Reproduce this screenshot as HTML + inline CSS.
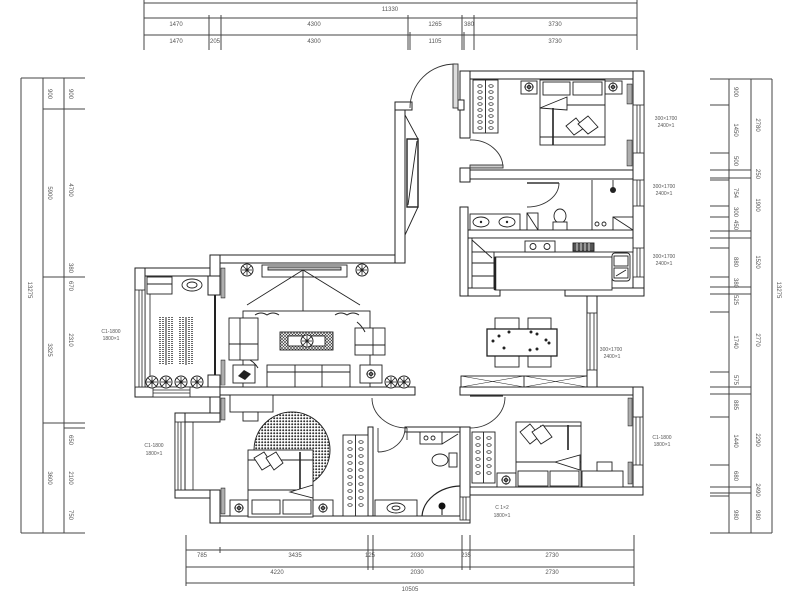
<!DOCTYPE html>
<html><head><meta charset="utf-8"><style>
html,body{margin:0;padding:0;background:#fff;}
svg{display:block}
text{font-family:"Liberation Sans",sans-serif;fill:#555}
</style></head><body>
<svg width="800" height="600" viewBox="0 0 800 600" xmlns="http://www.w3.org/2000/svg">
<defs>
<pattern id="dots" width="3" height="3" patternUnits="userSpaceOnUse"><rect width="3" height="3" fill="#fff"/><circle cx="1.2" cy="1.2" r="1" fill="#333"/></pattern>
<pattern id="hatch" width="3" height="3" patternUnits="userSpaceOnUse"><rect width="3" height="3" fill="#fff"/><path d="M0,0L3,3M3,0L0,3" stroke="#333" stroke-width="0.6"/></pattern>
<pattern id="rad" width="4" height="2" patternUnits="userSpaceOnUse"><rect width="4" height="2" fill="#fff"/><path d="M0,1H4" stroke="#333" stroke-width="0.8"/></pattern>
<g id="pl"><circle r="6" fill="#fff" stroke="#222"/><path d="M-5,0H5M0,-5V5M-4,-4L4,4M-4,4L4,-4" stroke="#222" stroke-width="0.8"/><circle r="1.6" fill="#222"/></g>
<g id="lamp"><circle r="4" fill="#fff" stroke="#222"/><circle r="1.5" fill="none" stroke="#222"/><path d="M-5,0H5M0,-5V5" stroke="#222" stroke-width="0.6"/></g>
<g id="hang"><ellipse cx="0" cy="0" rx="2.2" ry="1.3" fill="none" stroke="#222" stroke-width="0.7"/></g>
</defs>

<!-- ===== DIMENSIONS ===== -->
<g stroke="#444" stroke-width="1" fill="none">
<!-- top -->
<line x1="144" y1="3" x2="637" y2="3"/>
<line x1="144" y1="18" x2="637" y2="18"/>
<line x1="144" y1="35" x2="637" y2="35"/>
<line x1="144" y1="0" x2="144" y2="50"/>
<line x1="637" y1="0" x2="637" y2="50"/>
<line x1="209" y1="15" x2="209" y2="50"/>
<line x1="221" y1="15" x2="221" y2="50"/>
<line x1="408" y1="15" x2="408" y2="50"/>
<line x1="410" y1="32" x2="410" y2="50"/>
<line x1="462" y1="15" x2="462" y2="50"/>
<line x1="464" y1="32" x2="464" y2="50"/>
<line x1="474" y1="15" x2="474" y2="50"/>
<!-- left -->
<line x1="21" y1="78" x2="21" y2="533"/>
<line x1="43" y1="78" x2="43" y2="533"/>
<line x1="64" y1="78" x2="64" y2="533"/>
<line x1="21" y1="78" x2="85" y2="78"/>
<line x1="21" y1="533" x2="85" y2="533"/>
<line x1="43" y1="109" x2="85" y2="109"/>
<line x1="43" y1="277" x2="85" y2="277"/>
<line x1="43" y1="423" x2="85" y2="423"/>
<line x1="64" y1="428" x2="85" y2="428"/>
<!-- right -->
<line x1="729" y1="79" x2="729" y2="533"/>
<line x1="751" y1="79" x2="751" y2="533"/>
<line x1="772" y1="79" x2="772" y2="533"/>
<line x1="710" y1="79" x2="772" y2="79"/>
<line x1="710" y1="533" x2="772" y2="533"/>
<line x1="710" y1="105" x2="729" y2="105"/>
<line x1="710" y1="153" x2="729" y2="153"/>
<line x1="710" y1="170" x2="751" y2="170"/>
<line x1="710" y1="178" x2="751" y2="178"/>
<line x1="710" y1="180" x2="729" y2="180"/>
<line x1="710" y1="206" x2="729" y2="206"/>
<line x1="710" y1="217" x2="729" y2="217"/>
<line x1="710" y1="231" x2="751" y2="231"/>
<line x1="710" y1="238" x2="751" y2="238"/>
<line x1="710" y1="248" x2="729" y2="248"/>
<line x1="710" y1="277" x2="729" y2="277"/>
<line x1="710" y1="287" x2="751" y2="287"/>
<line x1="710" y1="294" x2="751" y2="294"/>
<line x1="710" y1="312" x2="729" y2="312"/>
<line x1="710" y1="372" x2="729" y2="372"/>
<line x1="710" y1="387" x2="751" y2="387"/>
<line x1="710" y1="394" x2="751" y2="394"/>
<line x1="710" y1="417" x2="729" y2="417"/>
<line x1="710" y1="465" x2="729" y2="465"/>
<line x1="710" y1="487" x2="751" y2="487"/>
<line x1="710" y1="493" x2="751" y2="493"/>
<line x1="710" y1="496" x2="729" y2="496"/>
<!-- bottom -->
<line x1="186" y1="550" x2="634" y2="550"/>
<line x1="186" y1="567" x2="634" y2="567"/>
<line x1="186" y1="583" x2="634" y2="583"/>
<line x1="186" y1="535" x2="186" y2="586"/>
<line x1="634" y1="535" x2="634" y2="586"/>
<line x1="368" y1="535" x2="368" y2="570"/>
<line x1="373" y1="535" x2="373" y2="570"/>
<line x1="462" y1="535" x2="462" y2="570"/>
<line x1="470" y1="535" x2="470" y2="570"/>
<line x1="220" y1="547" x2="220" y2="553"/>
</g>
<g font-size="6" text-anchor="middle">
<text x="390" y="11">11330</text>
<text x="176" y="26">1470</text><text x="314" y="26">4300</text><text x="435" y="26">1265</text><text x="469" y="26">380</text><text x="555" y="26">3730</text>
<text x="176" y="43">1470</text><text x="215" y="43">205</text><text x="314" y="43">4300</text><text x="435" y="43">1105</text><text x="555" y="43">3730</text>
<text x="202" y="557">785</text><text x="295" y="557">3435</text><text x="370" y="557">125</text><text x="417" y="557">2030</text><text x="466" y="557">235</text><text x="552" y="557">2730</text>
<text x="277" y="574">4220</text><text x="417" y="574">2030</text><text x="552" y="574">2730</text>
<text x="410" y="591">10505</text>
<g transform="translate(28,290) rotate(90)"><text>13275</text></g>
<g transform="translate(48,94) rotate(90)"><text>900</text></g>
<g transform="translate(48,193) rotate(90)"><text>5900</text></g>
<g transform="translate(48,350) rotate(90)"><text>3325</text></g>
<g transform="translate(48,478) rotate(90)"><text>3600</text></g>
<g transform="translate(69,94) rotate(90)"><text>900</text></g>
<g transform="translate(69,190) rotate(90)"><text>4700</text></g>
<g transform="translate(69,268) rotate(90)"><text>380</text></g>
<g transform="translate(69,286) rotate(90)"><text>670</text></g>
<g transform="translate(69,340) rotate(90)"><text>2310</text></g>
<g transform="translate(69,440) rotate(90)"><text>650</text></g>
<g transform="translate(69,478) rotate(90)"><text>2100</text></g>
<g transform="translate(69,515) rotate(90)"><text>750</text></g>
<g transform="translate(734,92) rotate(90)"><text>900</text></g>
<g transform="translate(734,130) rotate(90)"><text>1450</text></g>
<g transform="translate(734,161) rotate(90)"><text>500</text></g>
<g transform="translate(734,193) rotate(90)"><text>754</text></g>
<g transform="translate(734,212) rotate(90)"><text>300</text></g>
<g transform="translate(734,225) rotate(90)"><text>450</text></g>
<g transform="translate(734,262) rotate(90)"><text>880</text></g>
<g transform="translate(734,283) rotate(90)"><text>380</text></g>
<g transform="translate(734,300) rotate(90)"><text>525</text></g>
<g transform="translate(734,342) rotate(90)"><text>1740</text></g>
<g transform="translate(734,380) rotate(90)"><text>575</text></g>
<g transform="translate(734,405) rotate(90)"><text>885</text></g>
<g transform="translate(734,441) rotate(90)"><text>1440</text></g>
<g transform="translate(734,476) rotate(90)"><text>680</text></g>
<g transform="translate(734,515) rotate(90)"><text>980</text></g>
<g transform="translate(756,125) rotate(90)"><text>2780</text></g>
<g transform="translate(756,174) rotate(90)"><text>250</text></g>
<g transform="translate(756,205) rotate(90)"><text>1900</text></g>
<g transform="translate(756,262) rotate(90)"><text>1520</text></g>
<g transform="translate(756,340) rotate(90)"><text>2770</text></g>
<g transform="translate(756,440) rotate(90)"><text>2290</text></g>
<g transform="translate(756,490) rotate(90)"><text>2490</text></g>
<g transform="translate(756,515) rotate(90)"><text>980</text></g>
<g transform="translate(777,290) rotate(90)"><text>13275</text></g>
</g>
<!-- room labels -->
<g font-size="5" fill="#666" text-anchor="middle">
<text x="666" y="120">300×1700</text><text x="666" y="127">2400×1</text>
<text x="664" y="188">300×1700</text><text x="664" y="195">2400×1</text>
<text x="664" y="258">300×1700</text><text x="664" y="265">2400×1</text>
<text x="611" y="351">300×1700</text><text x="612" y="358">2400×1</text>
<text x="662" y="439">C1-1800</text><text x="662" y="446">1800×1</text>
<text x="111" y="333">C1-1800</text><text x="111" y="340">1800×1</text>
<text x="154" y="447">C1-1800</text><text x="154" y="455">1800×1</text>
<text x="502" y="509">C 1×2</text><text x="502" y="517">1800×1</text>
</g>

<!-- ===== WALLS ===== -->
<g fill="#fff" stroke="#222" stroke-width="1">
<rect x="460" y="71" width="184" height="8"/>
<rect x="633" y="71" width="11" height="225"/>
<rect x="460" y="71" width="10" height="67"/>
<rect x="460" y="170" width="173" height="9"/>
<rect x="460" y="168" width="10" height="14"/>
<rect x="460" y="207" width="8" height="89"/>
<rect x="468" y="230" width="165" height="8"/>
<rect x="468" y="288" width="32" height="8"/>
<rect x="565" y="288" width="79" height="8"/>
<rect x="587" y="296" width="10" height="91"/>
<rect x="460" y="387" width="183" height="8"/>
<rect x="633" y="387" width="10" height="108"/>
<rect x="470" y="487" width="173" height="8"/>
<rect x="460" y="427" width="10" height="96"/>
<rect x="210" y="516" width="260" height="7"/>
<rect x="368" y="427" width="5" height="89"/>
<rect x="405" y="427" width="55" height="5"/>
<rect x="210" y="387" width="205" height="8"/>
<rect x="210" y="395" width="10" height="27"/>
<rect x="175" y="413" width="45" height="9"/>
<rect x="175" y="413" width="10" height="85"/>
<rect x="175" y="490" width="45" height="8"/>
<rect x="210" y="490" width="10" height="33"/>
<rect x="135" y="268" width="85" height="8"/>
<rect x="135" y="268" width="10" height="129"/>
<rect x="135" y="387" width="85" height="10"/>
<rect x="208" y="276" width="12" height="19"/>
<rect x="208" y="375" width="12" height="12"/>
<rect x="210" y="255" width="195" height="8"/>
<rect x="210" y="255" width="10" height="21"/>
<rect x="395" y="102" width="10" height="161"/>
<rect x="395" y="102" width="17" height="8"/>
<rect x="458" y="100" width="6" height="10"/>
</g>
<!-- windows -->
<g stroke="#222" stroke-width="0.8" fill="#fff">
<rect x="633" y="105" width="11" height="48"/><line x1="637" y1="105" x2="637" y2="153"/><line x1="640" y1="105" x2="640" y2="153"/>
<rect x="633" y="180" width="11" height="26"/><line x1="637" y1="180" x2="637" y2="206"/><line x1="640" y1="180" x2="640" y2="206"/>
<rect x="633" y="248" width="11" height="29"/><line x1="637" y1="248" x2="637" y2="277"/><line x1="640" y1="248" x2="640" y2="277"/>
<rect x="587" y="313" width="10" height="57"/><line x1="590" y1="313" x2="590" y2="370"/><line x1="594" y1="313" x2="594" y2="370"/>
<rect x="633" y="417" width="10" height="48"/><line x1="636" y1="417" x2="636" y2="465"/><line x1="640" y1="417" x2="640" y2="465"/>
<rect x="460" y="497" width="10" height="23"/><line x1="463" y1="497" x2="463" y2="520"/><line x1="466" y1="497" x2="466" y2="520"/>
<rect x="175" y="422" width="10" height="68"/><line x1="178" y1="422" x2="178" y2="490"/><line x1="181" y1="422" x2="181" y2="490"/><line x1="185" y1="422" x2="185" y2="490"/><line x1="193" y1="422" x2="193" y2="490"/>
<rect x="135" y="290" width="10" height="97"/><line x1="139" y1="290" x2="139" y2="387"/><line x1="142" y1="290" x2="142" y2="387"/><line x1="150" y1="285" x2="150" y2="387"/>
<rect x="153" y="387" width="37" height="10"/><line x1="153" y1="390" x2="190" y2="390"/><line x1="153" y1="393" x2="190" y2="393"/>
</g>
<line x1="215" y1="295" x2="215" y2="375" stroke="#222" stroke-width="2"/>

<!-- ===== DOORS ===== -->
<g fill="none" stroke="#333" stroke-width="0.9">
<path d="M410,108 A45,44 0 0 1 455,64"/>
<rect x="453" y="64" width="5" height="44" fill="#ddd"/>
<path d="M470,140 A32,28 0 0 1 503,168"/>
<rect x="470" y="165" width="33" height="3" fill="#ccc"/>
<path d="M559,183 A32,24 0 0 1 527,207"/>
<line x1="527" y1="183" x2="559" y2="183" stroke-width="1.5"/>
<line x1="500" y1="289" x2="565" y2="289" stroke-width="1.5"/>
<path d="M372,398 A35,30 0 0 0 407,428"/>
<path d="M505,397 A35,31 0 0 1 470,428"/>
<line x1="470" y1="396" x2="503" y2="396" stroke-width="1.2"/>
<path d="M378,452 A27,24 0 0 0 405,428"/>
<line x1="378" y1="428" x2="378" y2="452"/>
<line x1="407" y1="428" x2="407" y2="440"/>
</g>
<!-- hall glass -->
<g fill="none" stroke="#222" stroke-width="0.9">
<path d="M405,115 L418,139 M418,207 L405,235"/>
<rect x="407" y="139" width="11" height="68" stroke-width="1.4"/>
<line x1="417" y1="141" x2="408" y2="205"/>
</g>

<!-- ===== MASTER BEDROOM ===== -->
<g fill="#fff" stroke="#222" stroke-width="0.9">
<rect x="473" y="80" width="25" height="53"/><line x1="485.5" y1="80" x2="485.5" y2="133"/>
<rect x="521" y="81" width="16" height="13"/><rect x="605" y="81" width="17" height="13"/>
<rect x="540" y="80" width="65" height="65"/>
<rect x="543" y="82" width="27" height="13"/><rect x="573" y="82" width="29" height="13"/>
<path d="M540,108 L567,97 L567,110 Z"/>
<line x1="567" y1="105" x2="605" y2="105"/>
<line x1="553" y1="108" x2="553" y2="145" stroke-width="1.6"/>
<line x1="540" y1="137" x2="605" y2="137"/>
<path d="M566,126 L576,118 L584,128 L574,135 Z"/><path d="M578,124 L588,116 L598,127 L588,134 Z"/>
<rect x="627" y="84" width="5" height="20" fill="url(#rad)" stroke-width="0.5"/>
<rect x="627" y="140" width="5" height="26" fill="url(#rad)" stroke-width="0.5"/>
</g>
<use href="#lamp" x="529" y="87"/><use href="#lamp" x="613" y="87"/>
<g><use href="#hang" x="480" y="86"/><use href="#hang" x="480" y="92"/><use href="#hang" x="480" y="98"/><use href="#hang" x="480" y="104"/><use href="#hang" x="480" y="110"/><use href="#hang" x="480" y="116"/><use href="#hang" x="480" y="122"/><use href="#hang" x="480" y="128"/>
<use href="#hang" x="491" y="86"/><use href="#hang" x="491" y="92"/><use href="#hang" x="491" y="98"/><use href="#hang" x="491" y="104"/><use href="#hang" x="491" y="110"/><use href="#hang" x="491" y="116"/><use href="#hang" x="491" y="122"/><use href="#hang" x="491" y="128"/></g>

<!-- ===== BATHROOM (top) ===== -->
<g fill="#fff" stroke="#222" stroke-width="0.9">
<rect x="470" y="214" width="50" height="16"/>
<ellipse cx="481" cy="222" rx="8" ry="5"/><ellipse cx="507" cy="222" rx="8" ry="5"/>
<rect x="527" y="213" width="11" height="17"/><line x1="527" y1="213" x2="538" y2="230"/>
<ellipse cx="560" cy="216" rx="6" ry="7"/><rect x="553" y="222" width="14" height="8"/>
<line x1="592" y1="180" x2="592" y2="230"/>
<line x1="613" y1="180" x2="613" y2="189"/>
<rect x="613" y="217" width="20" height="13"/><line x1="613" y1="217" x2="633" y2="230"/>
<circle cx="597" cy="224" r="2"/><circle cx="604" cy="224" r="2"/>
</g>
<circle cx="481" cy="222" r="1.2" fill="#222"/><circle cx="507" cy="222" r="1.2" fill="#222"/>
<circle cx="613" cy="190" r="3" fill="#222"/>

<!-- ===== KITCHEN ===== -->
<g fill="#fff" stroke="#222" stroke-width="0.9">
<rect x="472" y="238" width="161" height="14"/>
<rect x="472" y="252" width="22" height="36"/>
<line x1="472" y1="263" x2="494" y2="263"/><line x1="472" y1="276" x2="494" y2="276"/>
<path d="M472,240 L492,258" />
<rect x="525" y="241" width="30" height="11"/>
<circle cx="533" cy="246.5" r="3"/><circle cx="547" cy="246.5" r="3"/>
<rect x="573" y="243" width="21" height="8" fill="#555"/>
<rect x="495" y="257" width="117" height="33"/>
<line x1="495" y1="257" x2="495" y2="290" stroke-width="2.5"/>
<rect x="612" y="253" width="18" height="28" rx="3"/>
<rect x="614" y="256" width="14" height="10"/><rect x="614" y="268" width="14" height="10"/>
<line x1="616" y1="276" x2="626" y2="270"/>
</g>
<g stroke="#fff" stroke-width="0.8"><line x1="577" y1="243" x2="577" y2="251"/><line x1="581" y1="243" x2="581" y2="251"/><line x1="585" y1="243" x2="585" y2="251"/><line x1="589" y1="243" x2="589" y2="251"/></g>

<!-- ===== DINING ===== -->
<g fill="#fff" stroke="#222" stroke-width="0.9">
<rect x="495" y="318" width="24" height="12"/><rect x="528" y="318" width="23" height="12"/>
<rect x="495" y="355" width="24" height="12"/><rect x="528" y="355" width="23" height="12"/>
<rect x="487" y="329" width="70" height="27" stroke-width="1.3"/>
<rect x="461" y="376" width="126" height="11"/>
<line x1="524" y1="376" x2="524" y2="387"/>
<path d="M461,376 L524,387 M461,387 L524,376 M524,376 L587,387 M524,387 L587,376" stroke-width="0.5"/>
</g>
<g fill="#222"><circle cx="493" cy="341" r="1.5"/><circle cx="499" cy="336" r="1.5"/><circle cx="509" cy="332" r="1.5"/><circle cx="504" cy="348" r="1.5"/><circle cx="531" cy="332" r="1.5"/><circle cx="537" cy="334" r="1.5"/><circle cx="546" cy="340" r="1.5"/><circle cx="549" cy="343" r="1.5"/><circle cx="537" cy="349" r="1.5"/><circle cx="530" cy="350" r="1.5"/></g>

<!-- ===== LIVING ===== -->
<g fill="#fff" stroke="#222" stroke-width="0.9">
<rect x="262" y="265" width="85" height="12"/>
<rect x="268" y="267" width="73" height="3" fill="#bbb"/>
<path d="M303,270 L247,305 M303,270 L303,320 M303,270 L360,305" fill="none"/>
<rect x="243" y="311" width="127" height="76"/>
<rect x="229" y="318" width="29" height="42"/><line x1="240" y1="318" x2="240" y2="360"/><line x1="229" y1="344" x2="258" y2="344"/>
<rect x="355" y="328" width="30" height="27"/><line x1="373" y1="328" x2="373" y2="355"/><line x1="355" y1="345" x2="385" y2="345"/>
<rect x="280" y="332" width="53" height="18" fill="url(#hatch)"/>
<rect x="288" y="336" width="37" height="10"/>
<rect x="267" y="365" width="83" height="22"/>
<line x1="295" y1="365" x2="295" y2="387"/><line x1="322" y1="365" x2="322" y2="387"/>
<line x1="267" y1="372" x2="350" y2="372"/>
<rect x="233" y="365" width="22" height="18"/>
<rect x="360" y="365" width="22" height="18"/>
<rect x="221" y="268" width="4" height="30" fill="url(#rad)" stroke-width="0.5"/>
<rect x="221" y="360" width="4" height="25" fill="url(#rad)" stroke-width="0.5"/>
</g>
<path d="M238,376 L244,370 L251,374 L245,380 Z" fill="#222"/>
<use href="#lamp" x="371" y="374"/>
<use href="#pl" x="307" y="341"/>
<use href="#pl" x="247" y="270"/><use href="#pl" x="362" y="270"/>
<use href="#pl" x="391" y="382"/><use href="#pl" x="404" y="382"/>
<path d="M255,315 q6,-4 12,0 q6,-4 12,0 M335,315 q6,-4 12,0 q6,-4 12,0 M357,322 q5,4 8,10 M250,360 q5,3 8,8" fill="none" stroke="#222" stroke-width="1"/>

<!-- ===== BALCONY ===== -->
<g fill="#fff" stroke="#222" stroke-width="0.9">
<rect x="147" y="277" width="25" height="17"/><line x1="147" y1="284" x2="172" y2="284"/>
<ellipse cx="192" cy="285" rx="10" ry="6"/><ellipse cx="192" cy="285" rx="5" ry="3"/>
</g>
<g stroke="#222" stroke-width="1">
<line x1="166" y1="317" x2="166" y2="365"/><line x1="186" y1="317" x2="186" y2="365"/>
</g>
<g stroke="#333" stroke-width="1.5" stroke-dasharray="1,1">
<line x1="160" y1="317" x2="160" y2="365"/><line x1="163" y1="317" x2="163" y2="365"/><line x1="169" y1="317" x2="169" y2="365"/><line x1="172" y1="317" x2="172" y2="365"/>
<line x1="180" y1="317" x2="180" y2="365"/><line x1="183" y1="317" x2="183" y2="365"/><line x1="189" y1="317" x2="189" y2="365"/><line x1="192" y1="317" x2="192" y2="365"/>
</g>
<use href="#pl" x="152" y="382"/><use href="#pl" x="166" y="382"/><use href="#pl" x="181" y="382"/><use href="#pl" x="197" y="382"/>

<!-- ===== BEDROOM 3 ===== -->
<circle cx="292" cy="450" r="38" fill="url(#dots)" stroke="#222"/>
<g fill="#fff" stroke="#222" stroke-width="0.9">
<rect x="230" y="395" width="43" height="17"/>
<rect x="243" y="412" width="15" height="9"/>
<rect x="248" y="450" width="65" height="67"/>
<line x1="300" y1="452" x2="300" y2="490" stroke-width="1.6"/>
<line x1="248" y1="460" x2="313" y2="460"/>
<line x1="248" y1="490" x2="313" y2="490"/>
<path d="M290,492 L313,485 L313,498 Z"/>
<rect x="252" y="500" width="28" height="14"/><rect x="283" y="500" width="28" height="14"/>
<path d="M254,458 L264,452 L272,464 L262,470 Z"/><path d="M266,458 L276,452 L283,463 L274,470 Z"/>
<rect x="230" y="500" width="18" height="16"/><rect x="313" y="500" width="20" height="16"/>
<rect x="343" y="435" width="25" height="81"/><line x1="355.5" y1="435" x2="355.5" y2="516"/>
<rect x="221" y="398" width="4" height="22" fill="url(#rad)" stroke-width="0.5"/>
<rect x="221" y="488" width="4" height="26" fill="url(#rad)" stroke-width="0.5"/>
</g>
<use href="#lamp" x="239" y="508"/><use href="#lamp" x="323" y="508"/>
<g><use href="#hang" x="350" y="442"/><use href="#hang" x="350" y="449"/><use href="#hang" x="350" y="456"/><use href="#hang" x="350" y="463"/><use href="#hang" x="350" y="470"/><use href="#hang" x="350" y="477"/><use href="#hang" x="350" y="484"/><use href="#hang" x="350" y="491"/><use href="#hang" x="350" y="498"/><use href="#hang" x="350" y="505"/>
<use href="#hang" x="361" y="442"/><use href="#hang" x="361" y="449"/><use href="#hang" x="361" y="456"/><use href="#hang" x="361" y="463"/><use href="#hang" x="361" y="470"/><use href="#hang" x="361" y="477"/><use href="#hang" x="361" y="484"/><use href="#hang" x="361" y="491"/><use href="#hang" x="361" y="498"/><use href="#hang" x="361" y="505"/></g>

<!-- ===== BATHROOM (bottom) ===== -->
<g fill="#fff" stroke="#222" stroke-width="0.9">
<rect x="420" y="432" width="22" height="12"/><circle cx="426" cy="438" r="2"/><circle cx="433" cy="438" r="2"/>
<path d="M442,444 L458,434"/>
<ellipse cx="440" cy="460" rx="8" ry="6"/><rect x="449" y="453" width="8" height="14"/>
<rect x="375" y="500" width="42" height="16"/><ellipse cx="396" cy="508" rx="9" ry="5"/><ellipse cx="396" cy="508" rx="4" ry="2"/>
<path d="M422,516 A40,32 0 0 1 460,486" fill="none" stroke-width="1.2"/>
</g>
<circle cx="442" cy="506" r="3.5" fill="#111"/><line x1="442" y1="506" x2="442" y2="515" stroke="#111"/>

<!-- ===== BEDROOM 2 ===== -->
<g fill="#fff" stroke="#222" stroke-width="0.9">
<rect x="472" y="432" width="23" height="51"/><line x1="483.5" y1="432" x2="483.5" y2="483"/>
<rect x="497" y="473" width="19" height="14"/>
<rect x="516" y="422" width="65" height="65"/>
<line x1="568" y1="425" x2="568" y2="450" stroke-width="1.6"/>
<line x1="540" y1="426" x2="581" y2="426"/>
<line x1="516" y1="462" x2="581" y2="462"/>
<path d="M555,462 L580,455 L580,470 Z"/>
<rect x="518" y="471" width="30" height="15"/><rect x="550" y="471" width="29" height="15"/>
<path d="M520,432 L530,424 L540,436 L530,444 Z"/><path d="M532,432 L543,425 L552,437 L541,444 Z"/>
<rect x="582" y="471" width="41" height="16"/>
<rect x="597" y="462" width="15" height="9"/>
<rect x="628" y="398" width="4" height="28" fill="url(#rad)" stroke-width="0.5"/>
<rect x="628" y="462" width="4" height="22" fill="url(#rad)" stroke-width="0.5"/>
</g>
<use href="#lamp" x="506" y="480"/>
<g><use href="#hang" x="478" y="438"/><use href="#hang" x="478" y="445"/><use href="#hang" x="478" y="452"/><use href="#hang" x="478" y="459"/><use href="#hang" x="478" y="466"/><use href="#hang" x="478" y="473"/>
<use href="#hang" x="489" y="438"/><use href="#hang" x="489" y="445"/><use href="#hang" x="489" y="452"/><use href="#hang" x="489" y="459"/><use href="#hang" x="489" y="466"/><use href="#hang" x="489" y="473"/></g>
</svg>
</body></html>
